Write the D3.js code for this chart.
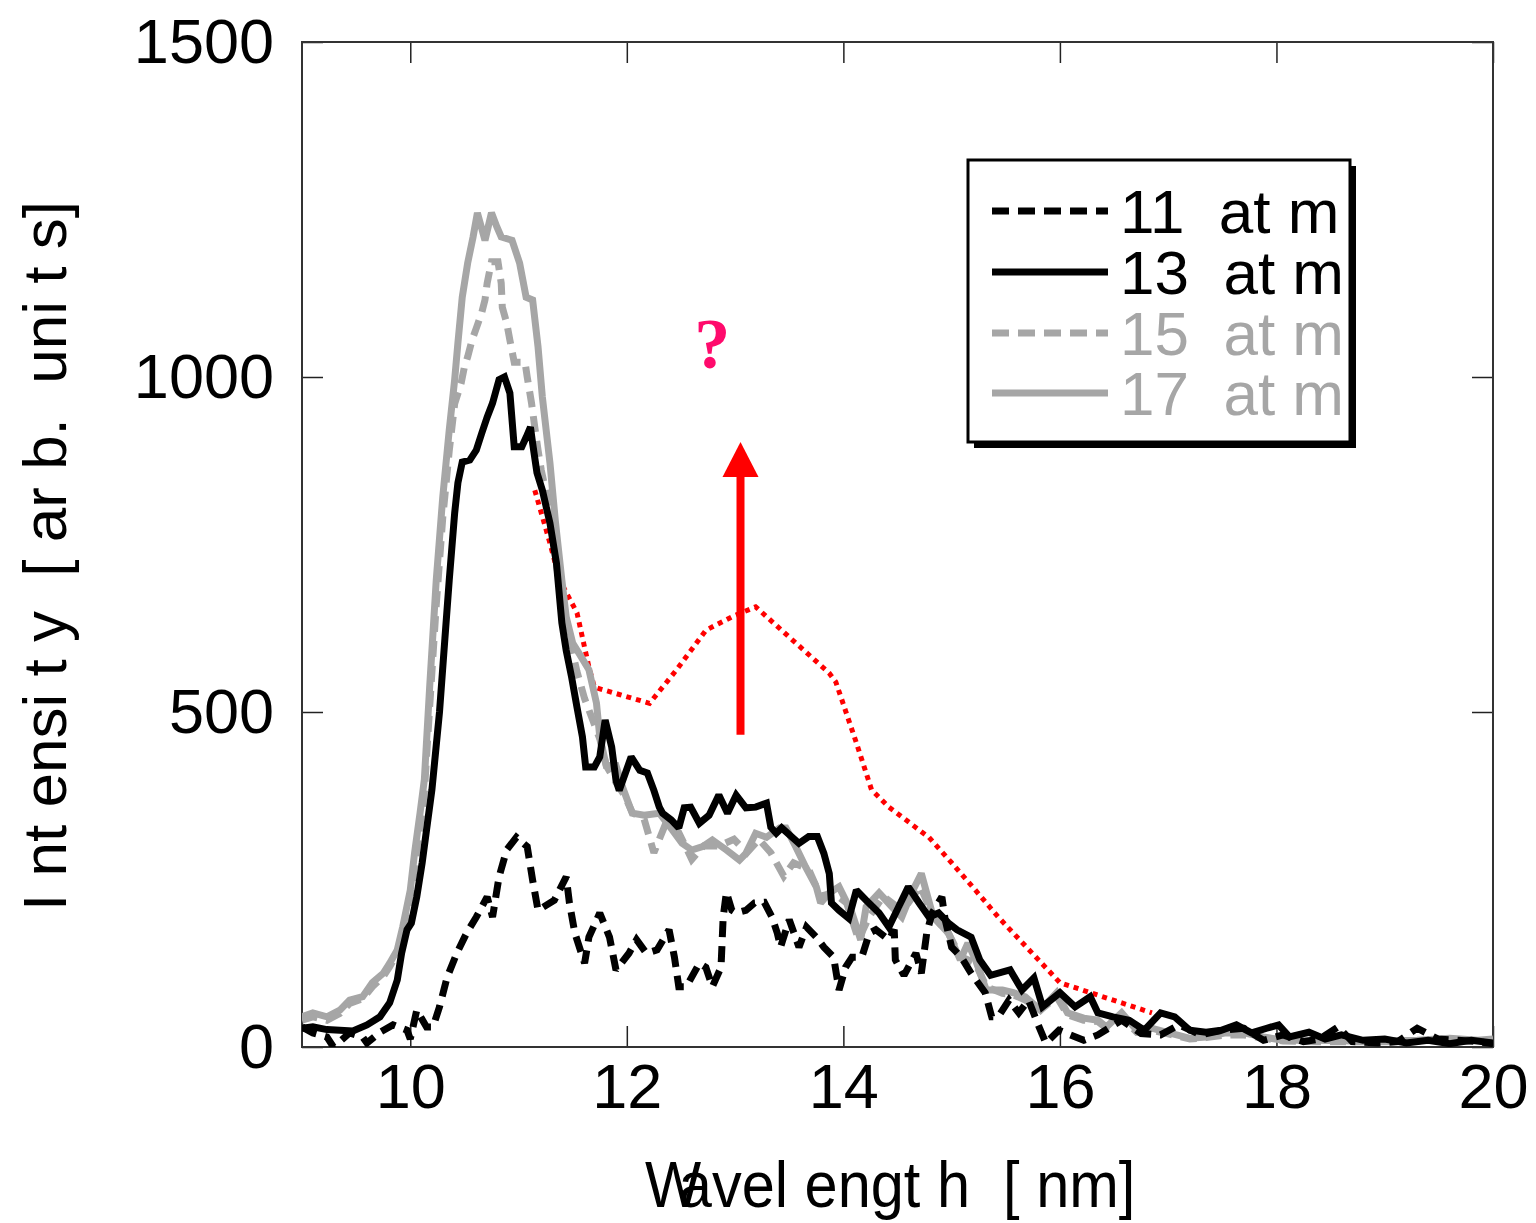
<!DOCTYPE html>
<html>
<head>
<meta charset="utf-8">
<script src="https://cdn.jsdelivr.net/npm/d3@7/dist/d3.min.js"></script>
<style>
  html, body { margin: 0; padding: 0; background: #fff; }
  svg { display: block; }
  text { white-space: pre; }
</style>
</head>
<body>
<svg id="chart" width="1536" height="1223"></svg>
<script>
// ---------- data ----------
const xTicks = [10, 12, 14, 16, 18, 20];
const xTickLabels = ["10", "12", "14", "16", "18", "20"];
const yTicks = [0, 500, 1000, 1500];
const yTickLabels = ["0", "500", "1000", "1500"];

const legendLabels = ["11  at m", "13  at m", "15  at m", "17  at m"];
const xTitle = ["W", "a", "vel engt h  [ nm]"];
const yTitle = "I nt ensi t y  [ ar b.  uni t s]";

// 11 atm (black dashed)
const atm11 = [[9.00,30],[9.10,21],[9.23,15],[9.29,0],[9.44,21],[9.56,15],[9.60,6],[9.72,22],[9.84,33],[9.97,25],[10.00,12],
[10.06,55],[10.15,30],[10.21,30],[10.27,60],[10.34,104],[10.43,140],[10.52,170],[10.61,194],[10.71,224],[10.76,194],[10.82,254],
[10.89,294],[10.98,313],[11.08,299],[11.13,249],[11.18,204],[11.33,219],[11.44,254],[11.47,215],[11.52,170],[11.61,125],[11.65,164],
[11.75,200],[11.84,164],[11.90,115],[12.02,140],[12.09,160],[12.18,140],[12.28,145],[12.39,175],[12.44,134],[12.48,90],[12.55,90],
[12.67,125],[12.73,119],[12.79,90],[12.87,119],[12.89,194],[12.92,231],[12.97,204],[13.01,200],[13.10,204],[13.18,215],[13.27,216],
[13.34,194],[13.39,170],[13.42,149],[13.50,190],[13.59,149],[13.66,179],[13.75,164],[13.82,149],[13.91,134],[13.96,85],[14.02,119],
[14.08,134],[14.17,134],[14.24,170],[14.30,175],[14.42,160],[14.47,175],[14.48,130],[14.56,107],[14.67,140],[14.72,110],[14.77,170],
[14.82,200],[14.91,224],[14.94,190],[15.00,149],[15.09,134],[15.18,110],[15.31,81],[15.37,45],[15.43,45],[15.53,70],[15.62,51],
[15.71,70],[15.80,33],[15.87,6],[15.99,25],[16.22,10],[16.35,18],[16.57,40],[16.75,20],[16.93,18],[17.10,33],[17.30,18],[17.50,25],
[17.70,28],[17.88,10],[18.06,18],[18.25,8],[18.40,12],[18.57,30],[18.70,8],[18.94,6],[19.12,8],[19.30,28],[19.49,12],[19.67,10],
[19.86,8],[20.00,5]];

// 13 atm (black solid)
const atm13 = [[9.00,28],[9.10,30],[9.23,26],[9.35,25],[9.47,24],[9.60,33],[9.72,45],[9.81,66],[9.88,100],[9.92,140],[9.97,175],
[10.01,185],[10.06,224],[10.11,275],[10.15,324],[10.20,384],[10.27,500],[10.32,610],[10.36,697],[10.41,797],[10.44,842],[10.48,873],
[10.55,876],[10.61,891],[10.66,916],[10.71,940],[10.76,961],[10.82,996],[10.87,1000],[10.92,976],[10.96,896],[11.03,896],[11.07,910],
[11.11,925],[11.13,901],[11.17,857],[11.22,831],[11.29,782],[11.35,722],[11.40,633],[11.44,592],[11.49,552],[11.54,507],[11.59,463],
[11.62,418],[11.70,418],[11.75,433],[11.80,488],[11.86,448],[11.90,398],[11.93,383],[12.04,433],[12.12,413],[12.19,409],[12.25,383],
[12.30,358],[12.33,349],[12.41,339],[12.48,327],[12.53,357],[12.59,358],[12.67,334],[12.76,346],[12.85,376],[12.93,349],[13.01,376],
[13.10,357],[13.19,358],[13.29,364],[13.33,328],[13.38,319],[13.43,327],[13.59,304],[13.68,314],[13.76,314],[13.82,289],[13.87,259],
[13.89,215],[13.96,204],[14.05,192],[14.12,234],[14.21,219],[14.33,200],[14.42,179],[14.51,209],[14.60,239],[14.70,215],[14.79,194],
[14.88,200],[14.97,185],[15.05,175],[15.18,164],[15.26,130],[15.36,107],[15.54,115],[15.65,85],[15.76,103],[15.84,60],[16.00,81],
[16.14,60],[16.28,75],[16.35,51],[16.49,45],[16.64,40],[16.78,25],[16.93,51],[17.06,45],[17.20,25],[17.35,22],[17.49,25],[17.63,33],
[17.77,21],[17.91,28],[18.02,33],[18.12,15],[18.30,22],[18.45,12],[18.60,18],[18.80,10],[19.00,12],[19.20,6],[19.40,10],[19.60,5],
[19.80,10],[20.00,6]];

// 15 atm (grey dashed)
const atm15 = [[9.00,40],[9.10,45],[9.23,40],[9.35,50],[9.44,65],[9.56,72],[9.65,90],[9.75,105],[9.81,120],[9.88,140],[9.93,170],
[10.00,220],[10.04,270],[10.09,330],[10.13,380],[10.18,510],[10.24,660],[10.30,790],[10.36,890],[10.41,960],[10.47,991],[10.50,1015],
[10.53,1030],[10.57,1055],[10.61,1073],[10.66,1096],[10.69,1115],[10.71,1140],[10.75,1172],[10.81,1172],[10.84,1140],[10.85,1104],
[10.89,1081],[10.92,1055],[10.96,1022],[11.06,1022],[11.08,1000],[11.12,961],[11.15,925],[11.18,891],[11.21,861],[11.29,800],
[11.35,720],[11.44,630],[11.54,560],[11.61,520],[11.65,503],[11.75,460],[11.81,420],[11.90,395],[11.98,375],[12.05,350],[12.16,340],
[12.25,290],[12.35,330],[12.48,320],[12.60,280],[12.71,300],[12.85,300],[12.99,310],[13.11,290],[13.22,310],[13.33,290],[13.45,255],
[13.54,275],[13.68,265],[13.79,225],[13.91,230],[14.03,215],[14.14,160],[14.24,195],[14.37,225],[14.49,210],[14.60,215],[14.71,240],
[14.83,195],[14.97,170],[15.08,135],[15.22,125],[15.32,90],[15.47,80],[15.57,78],[15.68,70],[15.82,55],[15.97,75],[16.07,48],
[16.22,40],[16.35,38],[16.43,28],[16.57,45],[16.71,22],[16.85,25],[16.99,20],[17.20,12],[17.35,14],[17.53,18],[17.70,18],[17.88,13],
[18.06,9],[18.38,8],[18.70,8],[19.00,8],[19.30,9],[19.60,11],[19.86,9],[20.00,10]];

// 17 atm (grey solid)
const atm17 = [[9.00,45],[9.10,51],[9.23,45],[9.35,55],[9.44,70],[9.56,75],[9.65,96],[9.75,110],[9.81,125],[9.88,145],[9.93,179],
[10.00,234],[10.04,290],[10.09,349],[10.13,399],[10.18,540],[10.24,697],[10.30,821],[10.36,921],[10.41,996],[10.44,1051],[10.48,1119],
[10.53,1170],[10.58,1209],[10.62,1245],[10.69,1204],[10.75,1245],[10.80,1224],[10.84,1209],[10.94,1204],[11.01,1170],[11.07,1119],
[11.13,1115],[11.18,1045],[11.22,970],[11.29,872],[11.34,785],[11.40,697],[11.44,642],[11.50,603],[11.58,582],[11.65,563],[11.72,513],
[11.75,463],[11.81,420],[11.90,420],[11.96,388],[12.05,349],[12.16,346],[12.30,349],[12.42,324],[12.51,304],[12.60,294],[12.70,299],
[12.79,309],[12.92,294],[13.04,279],[13.10,289],[13.19,319],[13.29,313],[13.41,327],[13.47,327],[13.56,299],[13.65,269],[13.75,239],
[13.79,215],[13.87,230],[13.96,239],[14.08,200],[14.16,160],[14.21,209],[14.33,230],[14.45,209],[14.54,194],[14.63,230],[14.72,259],
[14.83,194],[14.97,170],[15.08,130],[15.15,155],[15.22,130],[15.32,85],[15.47,85],[15.57,81],[15.68,75],[15.82,55],[15.97,81],
[16.07,51],[16.22,43],[16.35,40],[16.43,30],[16.57,51],[16.71,25],[16.85,28],[16.99,22],[17.20,13],[17.35,15],[17.53,21],[17.70,21],
[17.88,15],[18.06,10],[18.38,10],[18.70,9],[19.00,9],[19.30,10],[19.60,13],[19.86,10],[20.00,12]];

// red dotted guide curve
const guide = [[11.15,831],[11.29,752],[11.38,697],[11.54,648],[11.65,567],[11.70,537],[12.21,513],[12.46,563],[12.73,622],
[12.97,642],[13.19,657],[13.43,622],[13.87,558],[13.93,545],[14.12,454],[14.26,384],[14.42,358],[14.79,313],[15.00,275],
[15.22,234],[15.43,194],[16.00,96],[16.85,51]];

// red arrow (x, from y, to y) and question mark (x, y)
const arrowX = 13.05;
const arrowY = [466, 903];
const qMark = { text: "?", x: 12.79, y: 1013 };

const series = [atm11, atm13, atm15, atm17];

// ---------- drawing ----------
const SANS = "'Liberation Sans', Arial, sans-serif";
const SERIF = "'Liberation Serif', 'Times New Roman', 'DejaVu Serif', serif";
const svg = d3.select("#chart");
const L = 302, R = 1493, T = 42, B = 1047;
const x = d3.scaleLinear().domain([9, 20]).range([L, R]);
const y = d3.scaleLinear().domain([0, 1500]).range([B, T]);

const styles = [
  { color: "#000", dash: "16,9" },
  { color: "#000", dash: null },
  { color: "#a6a6a6", dash: "16,9" },
  { color: "#a6a6a6", dash: null }
];

svg.append("defs").append("clipPath").attr("id", "clip")
  .append("rect").attr("x", L).attr("y", T - 5).attr("width", R - L).attr("height", B - T + 5);

// axes with inward ticks
const tickFont = 63;
const gB = svg.append("g").attr("transform", `translate(0,${B})`)
  .call(d3.axisBottom(x).tickValues(xTicks).tickFormat((d, i) => xTickLabels[i])
    .tickSizeInner(-21).tickSizeOuter(0).tickPadding(16));
const gL = svg.append("g").attr("transform", `translate(${L},0)`)
  .call(d3.axisLeft(y).tickValues(yTicks).tickFormat((d, i) => yTickLabels[i])
    .tickSizeInner(-21).tickSizeOuter(0).tickPadding(28));
const gT = svg.append("g").attr("transform", `translate(0,${T})`)
  .call(d3.axisTop(x).tickValues(xTicks).tickFormat("").tickSizeInner(-21).tickSizeOuter(0));
const gR = svg.append("g").attr("transform", `translate(${R},0)`)
  .call(d3.axisRight(y).tickValues(yTicks).tickFormat("").tickSizeInner(-21).tickSizeOuter(0));
[gB, gL, gT, gR].forEach(g => {
  g.select(".domain").remove();
  g.selectAll(".tick line").attr("stroke", "#222").attr("stroke-width", 1.5);
  g.selectAll(".tick text").attr("font-size", tickFont).attr("fill", "#000")
    .style("font-family", SANS);
});

// frame
svg.append("rect").attr("x", L).attr("y", T).attr("width", R - L).attr("height", B - T)
  .attr("fill", "none").attr("stroke", "#333").attr("stroke-width", 2);

// series
const line = d3.line().x(d => x(d[0])).y(d => y(d[1]));
const plot = svg.append("g").attr("clip-path", "url(#clip)");

// red guide
plot.append("path").datum(guide).attr("d", line)
  .attr("fill", "none").attr("stroke", "#ff0000").attr("stroke-width", 5)
  .attr("stroke-dasharray", "5,5");

// draw order: grey solid, grey dashed, black dashed, black solid
[3, 2, 0, 1].forEach(i => {
  plot.append("path").datum(series[i]).attr("d", line)
    .attr("fill", "none").attr("stroke", styles[i].color).attr("stroke-width", 7)
    .attr("stroke-linejoin", "miter").attr("stroke-miterlimit", 2)
    .attr("stroke-dasharray", styles[i].dash);
});

// red arrow
const ax = x(arrowX), ay0 = y(arrowY[0]), ay1 = y(arrowY[1]);
svg.append("line").attr("x1", ax).attr("x2", ax).attr("y1", ay0).attr("y2", ay1 + 30)
  .attr("stroke", "#ff0000").attr("stroke-width", 8);
svg.append("path")
  .attr("d", `M${ax},${ay1} L${ax - 18},${ay1 + 35} L${ax + 18},${ay1 + 35} Z`)
  .attr("fill", "#ff0000");

// question mark
svg.append("text").attr("x", x(qMark.x)).attr("y", y(qMark.y))
  .attr("text-anchor", "middle").style("font-family", SERIF)
  .attr("font-weight", "bold").attr("font-size", 72).attr("fill", "#ff0a6c").text(qMark.text);

// legend
const lg = svg.append("g");
const lx = 968, ly = 160, lw = 382, lh = 282;
lg.append("rect").attr("x", lx + 6).attr("y", ly + 6).attr("width", lw).attr("height", lh).attr("fill", "#000");
lg.append("rect").attr("x", lx).attr("y", ly).attr("width", lw).attr("height", lh)
  .attr("fill", "#fff").attr("stroke", "#000").attr("stroke-width", 3);
const rowY = [211, 272, 333, 393];
legendLabels.forEach((lab, i) => {
  lg.append("line").attr("x1", 992).attr("x2", 1108).attr("y1", rowY[i]).attr("y2", rowY[i])
    .attr("stroke", styles[i].color).attr("stroke-width", 7)
    .attr("stroke-dasharray", styles[i].dash ? "17,9" : null);
  lg.append("text").attr("x", 1120).attr("y", rowY[i] + 22).attr("font-size", 62)
    .style("font-family", SANS).attr("fill", styles[i].color).text(lab);
});

// axis titles
const xt = svg.append("text").attr("transform", "translate(645,1207) scale(0.93,1)")
  .attr("font-size", 64).style("font-family", SANS).attr("fill", "#000");
xt.append("tspan").text(xTitle[0]);
xt.append("tspan").attr("dx", -24).text(xTitle[1]);
xt.append("tspan").text(xTitle[2]);

svg.append("text").attr("transform", "translate(66,556) rotate(-90)")
  .attr("text-anchor", "middle").attr("font-size", 62).style("font-family", SANS)
  .attr("fill", "#000").text(yTitle);
</script>
</body>
</html>
